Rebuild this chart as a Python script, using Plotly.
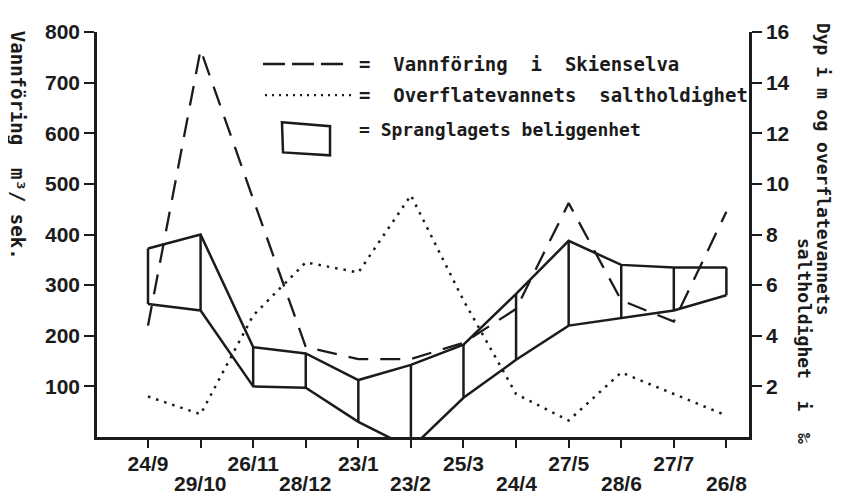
import plotly.graph_objects as go

# sampling dates (x categories)
dates = ["24/9", "29/10", "26/11", "28/12", "23/1", "23/2",
         "25/3", "24/4", "27/5", "28/6", "27/7", "26/8"]

# Vannføring i Skienselva, m3/sek (left axis)
vannforing = [220, 765, 470, 178, 154, 154, 186, 253, 462, 270, 228, 445]

# overflatevannets saltholdighet, promille (right axis)
saltholdighet = [1.6, 0.9, 4.8, 6.9, 6.5, 9.55, 5.4, 1.7, 0.65, 2.55, 1.7, 0.85]

# spranglagets beliggenhet, dyp i m (right axis): upper and lower limit
sprang_topp = [7.45, 8.0, 3.55, 3.3, 2.25, 2.85, 3.65, 5.65, 7.75, 6.8, 6.7, 6.7]
sprang_bunn = [5.25, 5.0, 2.0, 1.95, 0.6, -0.45, 1.55, 3.05, 4.4, 4.7, 5.0, 5.6]

left_ticks = [100, 200, 300, 400, 500, 600, 700, 800]
right_ticks = [2, 4, 6, 8, 10, 12, 14, 16]

INK = "#1b1b1b"
TICK_FONT = dict(family="Liberation Sans", size=21, color=INK, weight="bold")
MONO = "DejaVu Sans Mono"

fig = go.Figure()

# the thermocline band: top line, bottom line and a vertical bar per date
band = dict(color=INK, width=2.5)
fig.add_trace(go.Scatter(x=dates, y=sprang_topp, yaxis="y2", mode="lines", line=band))
fig.add_trace(go.Scatter(x=dates, y=sprang_bunn, yaxis="y2", mode="lines", line=band))
vx, vy = [], []
for d, top, bot in zip(dates, sprang_topp, sprang_bunn):
    vx += [d, d, None]
    vy += [bot, top, None]
fig.add_trace(go.Scatter(x=vx, y=vy, yaxis="y2", mode="lines", line=band))

fig.add_trace(go.Scatter(x=dates, y=saltholdighet, yaxis="y2", mode="lines",
                         line=dict(color=INK, width=2.5, dash="2.5px,6px")))
fig.add_trace(go.Scatter(x=dates, y=vannforing, mode="lines",
                         line=dict(color=INK, width=2.3, dash="20px,12px")))

axis_common = dict(showgrid=False, zeroline=False, showline=True, linewidth=2.5,
                   linecolor=INK, ticks="outside", tickwidth=2, tickcolor=INK,
                   tickfont=TICK_FONT)

# the page body has an 8px margin, so the figure is 8px smaller each way
fig.update_layout(
    width=833, height=488,
    margin=dict(l=89, r=92, t=12, b=59),
    paper_bgcolor="white", plot_bgcolor="white",
    showlegend=False,
    xaxis=dict(type="category", categoryorder="array", categoryarray=dates,
               range=[-0.97, 11.43], tickvals=dates,
               ticktext=[d if i % 2 == 0 else "" for i, d in enumerate(dates)],
               ticklen=8, ticklabelstandoff=-2, **axis_common),
    yaxis=dict(range=[0, 800], tickvals=left_ticks, ticklen=10, **axis_common),
    yaxis2=dict(range=[0, 16], tickvals=right_ticks, ticklen=10, overlaying="y",
                side="right", **axis_common),
)

# second row of date labels
for d in dates[1::2]:
    fig.add_annotation(x=d, xref="x", y=0, yref="paper", yanchor="middle",
                       yshift=-46, text=d, showarrow=False, font=TICK_FONT)

# axis titles, read top to bottom
title_font = dict(family=MONO, color=INK, weight="bold")
fig.add_annotation(x=-0.1212, y=0.719, xref="paper", yref="paper", textangle=90,
                   xanchor="center", yanchor="middle",
                   text="Vannföring  m³/ sek.", showarrow=False,
                   font=dict(size=19, **title_font))
fig.add_annotation(x=1.1135, y=0.662, xref="paper", yref="paper", textangle=90,
                   xanchor="center", yanchor="middle",
                   text="Dyp i m og overflatevannets", showarrow=False,
                   font=dict(size=18, **title_font))
fig.add_annotation(x=1.0859, y=0.237, xref="paper", yref="paper", textangle=90,
                   xanchor="center", yanchor="middle",
                   text="saltholdighet  i  ‰", showarrow=False,
                   font=dict(size=18, **title_font))

# hand drawn legend
fig.add_shape(type="line", xref="paper", yref="paper", x0=0.2546, x1=0.3880,
              y0=0.921, y1=0.921, line=dict(color=INK, width=2.3, dash="22px,7px"))
fig.add_shape(type="line", xref="paper", yref="paper", x0=0.2577, x1=0.3911,
              y0=0.844, y1=0.844, line=dict(color=INK, width=2.3, dash="2px,5px"))
fig.add_shape(type="path", xref="paper", yref="paper",
              path="M 0.2837 0.7770 L 0.3574 0.7674 L 0.3574 0.6954 L 0.2853 0.7026 Z",
              line=dict(color=INK, width=2.5))
legend_rows = [("=  Vannföring  i  Skienselva", 0.921, 19),
               ("=  Overflatevannets  saltholdighet", 0.844, 19),
               ("= Spranglagets beliggenhet", 0.760, 18)]
for text, ypos, size in legend_rows:
    fig.add_annotation(x=0.3988, y=ypos, xref="paper", yref="paper", xanchor="left",
                       yanchor="middle", text=text, showarrow=False,
                       font=dict(size=size, **title_font))

fig.write_html("out.html")
